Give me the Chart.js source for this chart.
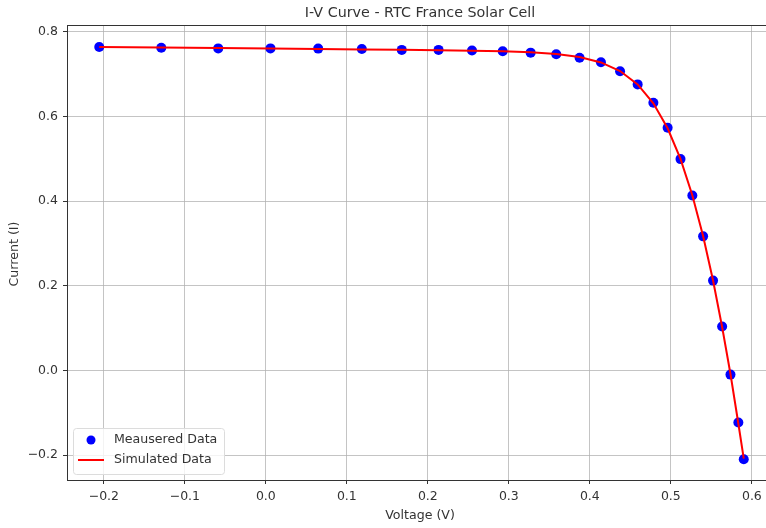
<!DOCTYPE html>
<html>
<head>
<meta charset="utf-8">
<script src="https://cdn.jsdelivr.net/npm/chart.js@4/dist/chart.umd.min.js"></script>
<style>
  html, body { margin: 0; padding: 0; background: #fff; overflow: hidden; }
  #wrap { width: 800px; height: 528px; }
</style>
</head>
<body>
<div id="wrap"><canvas id="ivChart" width="800" height="528"></canvas></div>
<script>
// RTC France measured data
const voltage = [-0.2057, -0.1291, -0.0588, 0.0057, 0.0646, 0.1185, 0.1678, 0.2132, 0.2545, 0.2924,
    0.3269, 0.3585, 0.3873, 0.4137, 0.4373, 0.4590, 0.4784, 0.4960, 0.5119, 0.5265,
    0.5398, 0.5521, 0.5633, 0.5736, 0.5833, 0.5900];
const measuredCurrent = [0.7640, 0.7620, 0.7605, 0.7605, 0.7600, 0.7590, 0.7570, 0.7570, 0.7555, 0.7540,
    0.7505, 0.7465, 0.7385, 0.7280, 0.7065, 0.6755, 0.6320, 0.5730, 0.4990, 0.4130,
    0.3165, 0.2120, 0.1035, -0.0100, -0.1230, -0.2100];
const simulatedCurrent = [0.7641, 0.7627, 0.7614, 0.7602, 0.7591, 0.7580, 0.7571, 0.7561, 0.7551, 0.7537,
    0.7514, 0.7474, 0.7401, 0.7274, 0.7070, 0.6753, 0.6308, 0.5719, 0.4996, 0.4137,
    0.3175, 0.2122, 0.1023, -0.0087, -0.1255, -0.2085];

const xTicks = [-0.2, -0.1, 0.0, 0.1, 0.2, 0.3, 0.4, 0.5, 0.6];
const yTicks = [-0.2, 0.0, 0.2, 0.4, 0.6, 0.8];

const FONT = "'DejaVu Sans', sans-serif";
const TEXT = '#333333';

function fmt(v) {
    const s = Math.abs(v).toFixed(1);
    return v < -1e-9 ? '\u2212' + s : s;
}

// title, axis labels, top spine and legend
const decorPlugin = {
    id: 'decor',
    afterDraw(chart) {
        const ctx = chart.ctx;
        const a = chart.chartArea;
        ctx.save();
        // top spine
        ctx.strokeStyle = '#333';
        ctx.lineWidth = 1;
        ctx.beginPath();
        ctx.moveTo(a.left, a.top + 0.5);
        ctx.lineTo(a.right, a.top + 0.5);
        ctx.stroke();

        ctx.fillStyle = TEXT;
        ctx.textAlign = 'center';
        ctx.textBaseline = 'middle';
        ctx.font = '14.3px ' + FONT;
        ctx.fillText('I-V Curve - RTC France Solar Cell', 420, 13);
        ctx.font = '12.6px ' + FONT;
        ctx.fillText('Voltage (V)', 420, 516);
        ctx.translate(15, 254);
        ctx.rotate(-Math.PI / 2);
        ctx.fillText('Current (I)', 0, 0);
        ctx.restore();

        // legend
        ctx.save();
        const lx = 73, ly = 428, lw = 151, lh = 46;
        ctx.fillStyle = 'rgba(255,255,255,0.8)';
        ctx.strokeStyle = '#dcdcdc';
        ctx.lineWidth = 1;
        ctx.beginPath();
        ctx.roundRect(lx + 0.5, ly + 0.5, lw, lh, 3);
        ctx.fill();
        ctx.stroke();
        const ds = chart.data.datasets;
        ctx.fillStyle = '#0000ff';
        ctx.beginPath();
        ctx.arc(91, 440, 4.5, 0, Math.PI * 2);
        ctx.fill();
        ctx.strokeStyle = '#ff0000';
        ctx.lineWidth = 2;
        ctx.beginPath();
        ctx.moveTo(78, 460);
        ctx.lineTo(104, 460);
        ctx.stroke();
        ctx.fillStyle = TEXT;
        ctx.font = '12.6px ' + FONT;
        ctx.textAlign = 'left';
        ctx.textBaseline = 'middle';
        ctx.fillText(ds[1].label, 114, 440);
        ctx.fillText(ds[0].label, 114, 460);
        ctx.restore();
    }
};

const gridCommon = {
    color: 'rgba(176,176,176,0.75)',
    lineWidth: 1,
    tickColor: '#333',
    tickLength: 4,
    drawOnChartArea: true
};

new Chart(document.getElementById('ivChart'), {
    type: 'scatter',
    data: {
        datasets: [
            {
                label: 'Simulated Data',
                data: voltage.map((v, i) => ({ x: v, y: simulatedCurrent[i] })),
                showLine: true,
                borderColor: '#ff0000',
                borderWidth: 2,
                pointRadius: 0,
                order: 0
            },
            {
                label: 'Meausered Data',
                data: voltage.map((v, i) => ({ x: v, y: measuredCurrent[i] })),
                showLine: false,
                backgroundColor: '#0000ff',
                borderColor: '#0000ff',
                pointRadius: 5,
                pointBorderWidth: 0,
                order: 1
            }
        ]
    },
    options: {
        responsive: false,
        animation: false,
        layout: { padding: { top: 25, right: 24, left: 0, bottom: 0 } },
        plugins: {
            legend: { display: false },
            title: { display: false },
            tooltip: { enabled: false }
        },
        scales: {
            x: {
                type: 'linear',
                min: -0.2455,
                max: 0.6298,
                afterFit(s) { s.height = 48; },
                afterBuildTicks(s) { s.ticks = xTicks.map(v => ({ value: v })); },
                grid: gridCommon,
                border: { display: true, color: '#333', width: 1 },
                ticks: {
                    color: TEXT,
                    font: { family: FONT, size: 12.5 },
                    padding: 5,
                    maxRotation: 0,
                    callback: v => fmt(v)
                }
            },
            y: {
                type: 'linear',
                min: -0.259,
                max: 0.8158,
                afterFit(s) { s.width = 67; },
                afterBuildTicks(s) { s.ticks = yTicks.map(v => ({ value: v })); },
                grid: gridCommon,
                border: { display: true, color: '#333', width: 1 },
                ticks: {
                    color: TEXT,
                    font: { family: FONT, size: 12.5 },
                    padding: 5,
                    callback: v => fmt(v)
                }
            }
        }
    },
    plugins: [decorPlugin]
});
</script>
</body>
</html>
